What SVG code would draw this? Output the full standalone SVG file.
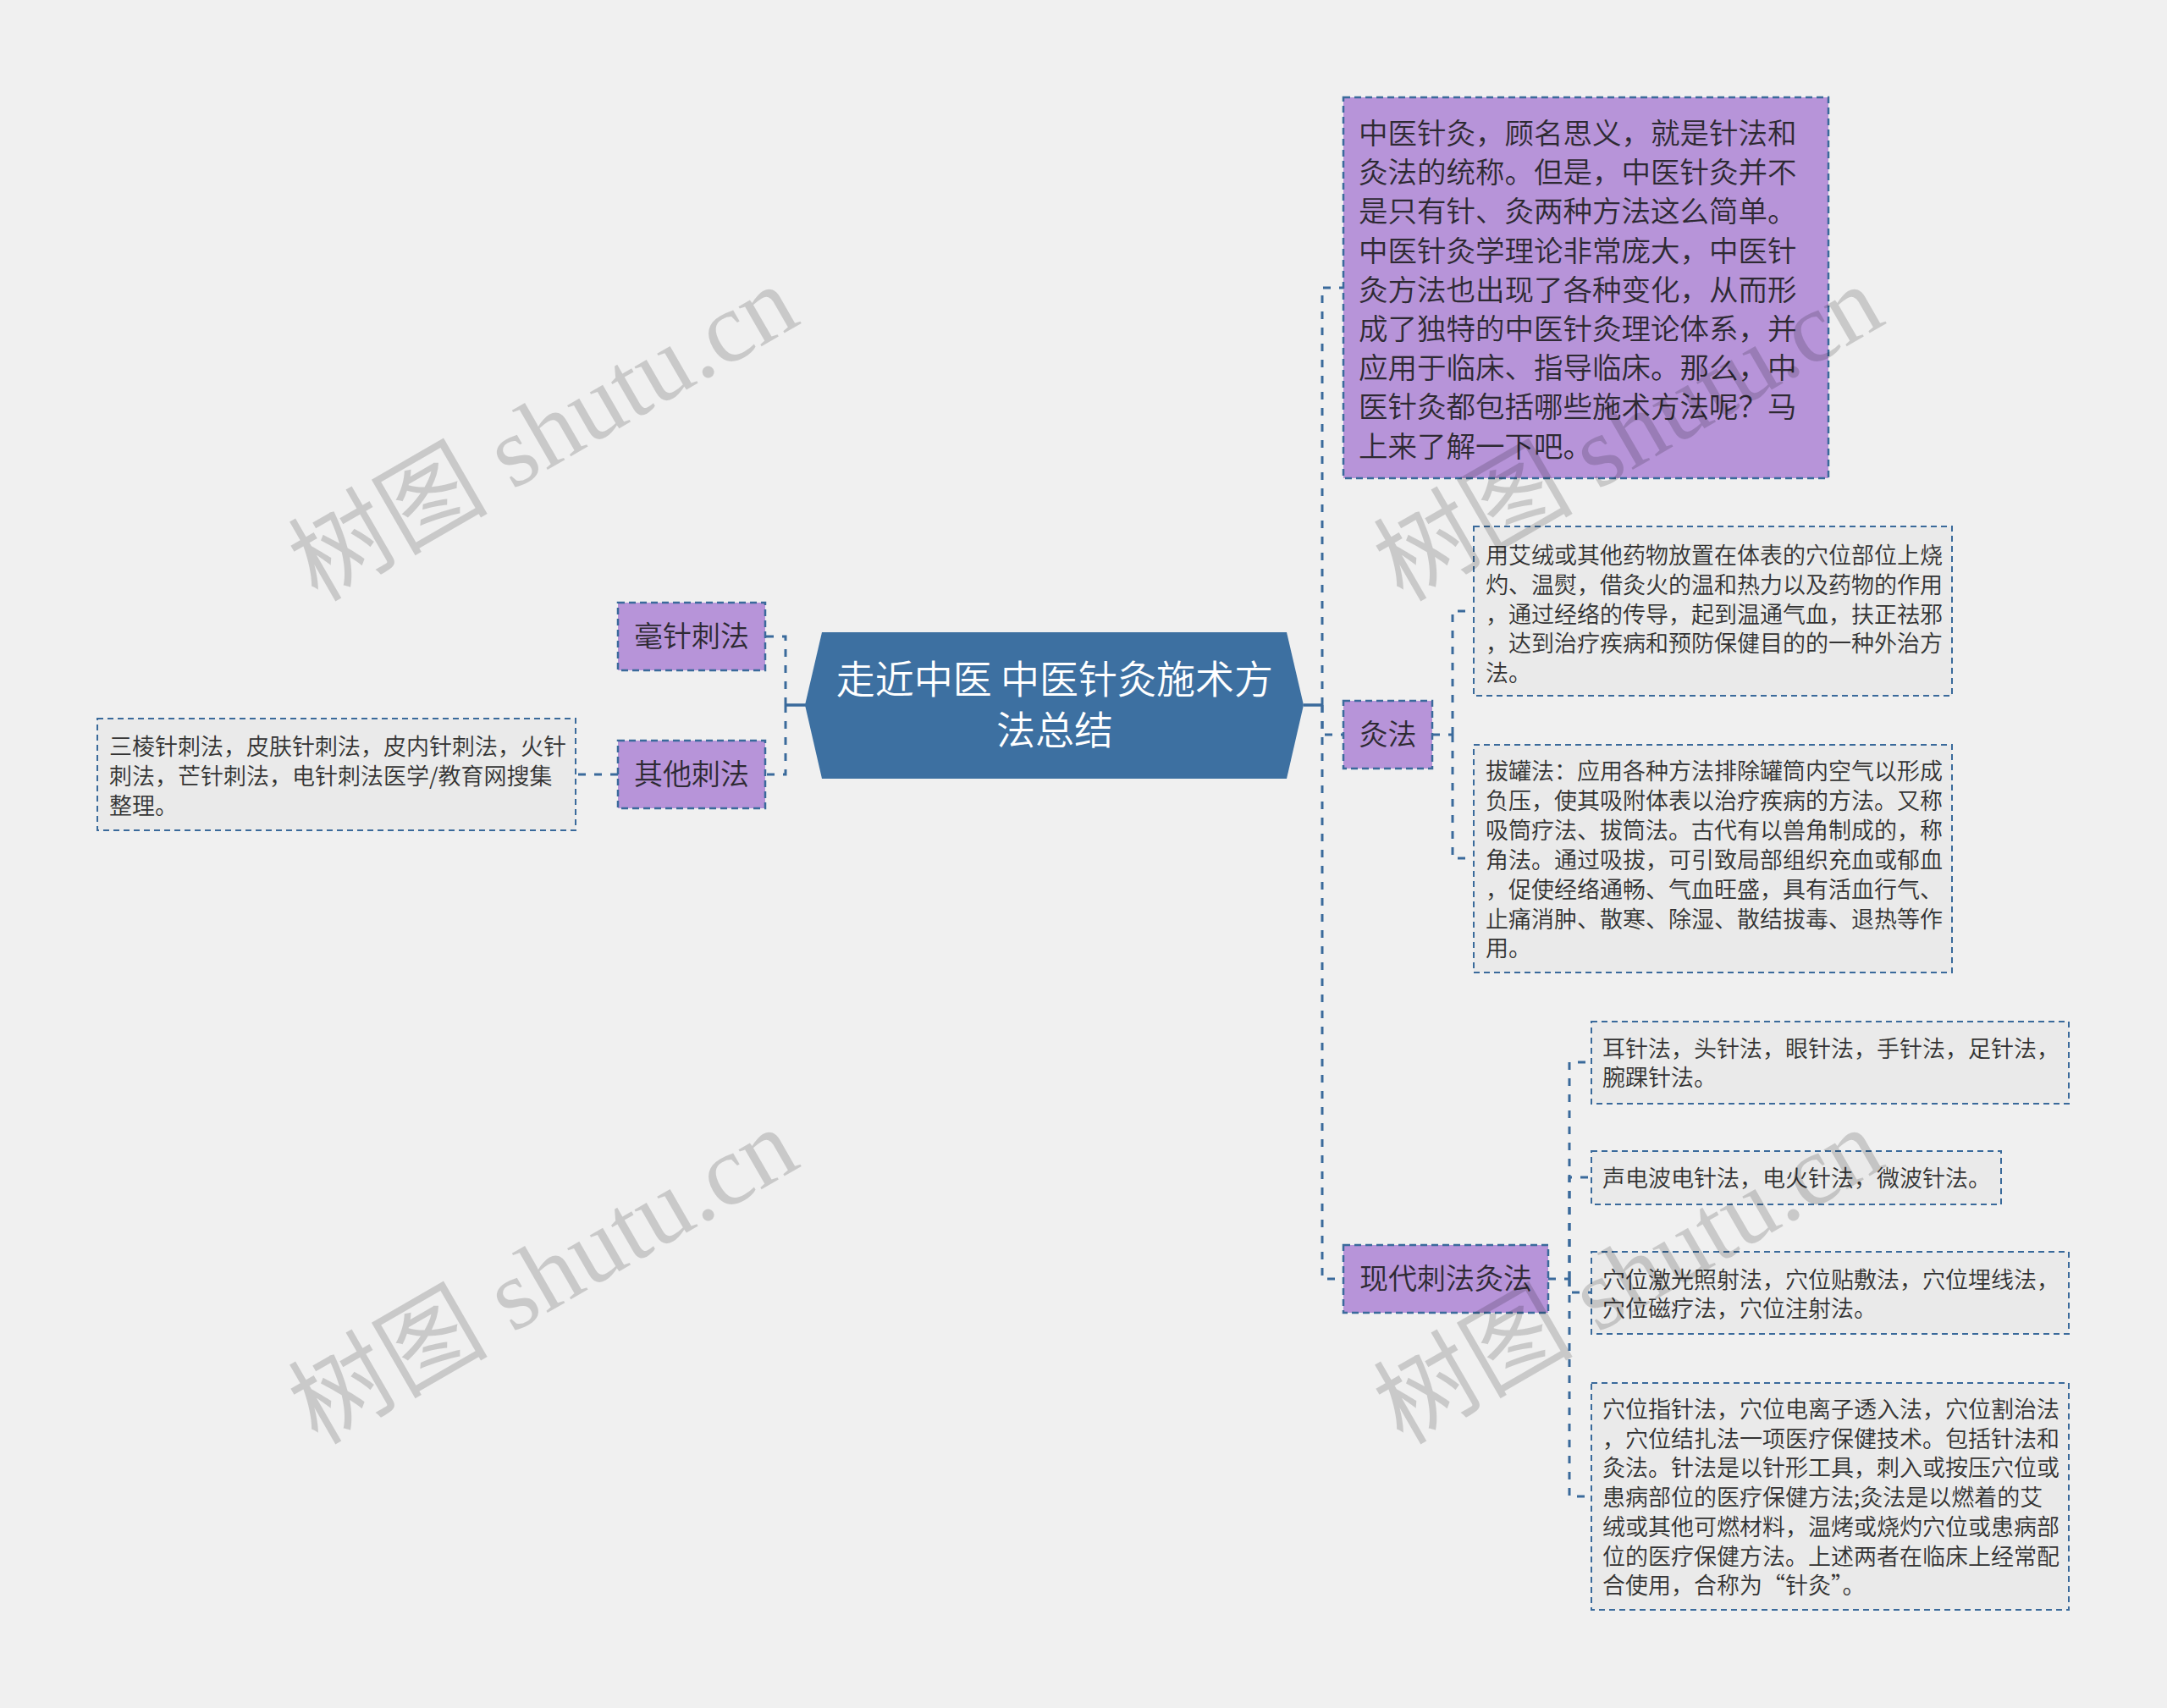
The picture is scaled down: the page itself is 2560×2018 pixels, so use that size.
<svg xmlns="http://www.w3.org/2000/svg" width="2560" height="2018" viewBox="0 0 2560 2018">
<style>
.bg{fill:#f0f0f0}
.conn{fill:none;stroke:#3a6a9b;stroke-width:3;stroke-dasharray:9,10}
.solid{fill:none;stroke:#3a6a9b;stroke-width:3.5}
.topic{fill:#b794d9;stroke:#3a6a9b;stroke-width:2.5;stroke-dasharray:8,5}
.leaf{fill:#eaeaea;stroke:#3a6a9b;stroke-width:2;stroke-dasharray:7,5}
.root{fill:#3d70a1}
text{font-family:"Noto Sans CJK SC","Noto Sans",sans-serif;fill:#333;font-weight:350}
.rt{font-size:46px;fill:#fff;text-anchor:middle}
.tt{font-size:34px;text-anchor:middle;fill:#2e2a33}
.big{font-size:34.5px;fill:#2e2a33}
.lt{font-size:27px}
.wm{font-family:"Liberation Serif","Noto Sans CJK SC",serif;font-size:118px;fill:#000;fill-opacity:0.16;font-weight:400}
</style>
<rect class="bg" x="0" y="0" width="2560" height="2018"/>
<g id="connectors">
<path class="solid" d="M928 833H952"/>
<path class="conn" d="M928 833V752H904"/>
<path class="conn" d="M928 833V915H904"/>
<path class="conn" d="M730 915H680"/>
<path class="solid" d="M1540 833H1562"/>
<path class="conn" d="M1562 833V340H1587"/>
<path class="conn" d="M1562 833V868H1587"/>
<path class="conn" d="M1562 833V1511H1587"/>
<path class="conn" d="M1692 868H1716"/>
<path class="conn" d="M1716 868V722H1741"/>
<path class="conn" d="M1716 868V1014H1741"/>
<path class="conn" d="M1829 1511H1854"/>
<path class="conn" d="M1854 1511V1255H1880"/>
<path class="conn" d="M1854 1511V1391H1880"/>
<path class="conn" d="M1854 1511V1527H1880"/>
<path class="conn" d="M1854 1511V1768H1880"/>
</g>
<g id="root">
<polygon class="root" points="951,833 971,747 1520,747 1540,833 1520,920 971,920"/>
<text class="rt" x="1246" y="819">走近中医 中医针灸施术方</text>
<text class="rt" x="1246" y="879">法总结</text>
</g>
<g id="n-haozhen">
<rect class="topic" x="730" y="712" width="174" height="80"/>
<text class="tt" x="817" y="764">毫针刺法</text>
</g>
<g id="n-qita">
<rect class="topic" x="730" y="875" width="174" height="80"/>
<text class="tt" x="817" y="927">其他刺法</text>
</g>
<g id="n-qita-leaf">
<rect class="leaf" x="115" y="849" width="565" height="132"/>
<text class="lt"><tspan x="129" y="892">三棱针刺法，皮肤针刺法，皮内针刺法，火针</tspan><tspan x="129" y="927">刺法，芒针刺法，电针刺法医学/教育网搜集</tspan><tspan x="129" y="962">整理。</tspan></text>
</g>
<g id="n-intro">
<rect class="topic" x="1587" y="115" width="573" height="450"/>
<text class="big"><tspan x="1605" y="170">中医针灸，顾名思义，就是针法和</tspan><tspan x="1605" y="216.2">灸法的统称。但是，中医针灸并不</tspan><tspan x="1605" y="262.4">是只有针、灸两种方法这么简单。</tspan><tspan x="1605" y="308.6">中医针灸学理论非常庞大，中医针</tspan><tspan x="1605" y="354.8">灸方法也出现了各种变化，从而形</tspan><tspan x="1605" y="401">成了独特的中医针灸理论体系，并</tspan><tspan x="1605" y="447.2">应用于临床、指导临床。那么，中</tspan><tspan x="1605" y="493.4">医针灸都包括哪些施术方法呢？马</tspan><tspan x="1605" y="539.6">上来了解一下吧。</tspan></text>
</g>
<g id="n-jiufa">
<rect class="topic" x="1587" y="828" width="105" height="80"/>
<text class="tt" x="1639.5" y="880">灸法</text>
</g>
<g id="n-jiufa-1">
<rect class="leaf" x="1741" y="622" width="565" height="200"/>
<text class="lt"><tspan x="1755" y="666">用艾绒或其他药物放置在体表的穴位部位上烧</tspan><tspan x="1755" y="700.75">灼、温熨，借灸火的温和热力以及药物的作用</tspan><tspan x="1755" y="735.5">，通过经络的传导，起到温通气血，扶正祛邪</tspan><tspan x="1755" y="770.25">，达到治疗疾病和预防保健目的的一种外治方</tspan><tspan x="1755" y="805">法。</tspan></text>
</g>
<g id="n-jiufa-2">
<rect class="leaf" x="1741" y="880" width="565" height="269"/>
<text class="lt"><tspan x="1755" y="921">拔罐法：应用各种方法排除罐筒内空气以形成</tspan><tspan x="1755" y="955.9">负压，使其吸附体表以治疗疾病的方法。又称</tspan><tspan x="1755" y="990.8">吸筒疗法、拔筒法。古代有以兽角制成的，称</tspan><tspan x="1755" y="1025.7">角法。通过吸拔，可引致局部组织充血或郁血</tspan><tspan x="1755" y="1060.6">，促使经络通畅、气血旺盛，具有活血行气、</tspan><tspan x="1755" y="1095.5">止痛消肿、散寒、除湿、散结拔毒、退热等作</tspan><tspan x="1755" y="1130.4">用。</tspan></text>
</g>
<g id="n-xiandai">
<rect class="topic" x="1587" y="1471" width="242" height="80"/>
<text class="tt" x="1708" y="1523">现代刺法灸法</text>
</g>
<g id="n-xiandai-1">
<rect class="leaf" x="1880" y="1207" width="564" height="97"/>
<text class="lt"><tspan x="1893" y="1249">耳针法，头针法，眼针法，手针法，足针法，</tspan><tspan x="1893" y="1283">腕踝针法。</tspan></text>
</g>
<g id="n-xiandai-2">
<rect class="leaf" x="1880" y="1360" width="484" height="63"/>
<text class="lt" x="1893" y="1402">声电波电针法，电火针法，微波针法。</text>
</g>
<g id="n-xiandai-3">
<rect class="leaf" x="1880" y="1479" width="564" height="97"/>
<text class="lt"><tspan x="1893" y="1522">穴位激光照射法，穴位贴敷法，穴位埋线法，</tspan><tspan x="1893" y="1556">穴位磁疗法，穴位注射法。</tspan></text>
</g>
<g id="n-xiandai-4">
<rect class="leaf" x="1880" y="1634" width="564" height="268"/>
<text class="lt"><tspan x="1893" y="1675">穴位指针法，穴位电离子透入法，穴位割治法</tspan><tspan x="1893" y="1709.7">，穴位结扎法一项医疗保健技术。包括针法和</tspan><tspan x="1893" y="1744.4">灸法。针法是以针形工具，刺入或按压穴位或</tspan><tspan x="1893" y="1779.1">患病部位的医疗保健方法;灸法是以燃着的艾</tspan><tspan x="1893" y="1813.8">绒或其他可燃材料，温烤或烧灼穴位或患病部</tspan><tspan x="1893" y="1848.5">位的医疗保健方法。上述两者在临床上经常配</tspan><tspan x="1893" y="1883.2">合使用，合称为“针灸”。</tspan></text>
</g>
<g id="watermarks">
<text class="wm" transform="translate(375,712) rotate(-30)">树图 shutu.cn</text>
<text class="wm" transform="translate(1657,712) rotate(-30)">树图 shutu.cn</text>
<text class="wm" transform="translate(375,1708) rotate(-30)">树图 shutu.cn</text>
<text class="wm" transform="translate(1657,1708) rotate(-30)">树图 shutu.cn</text>
</g>
</svg>
